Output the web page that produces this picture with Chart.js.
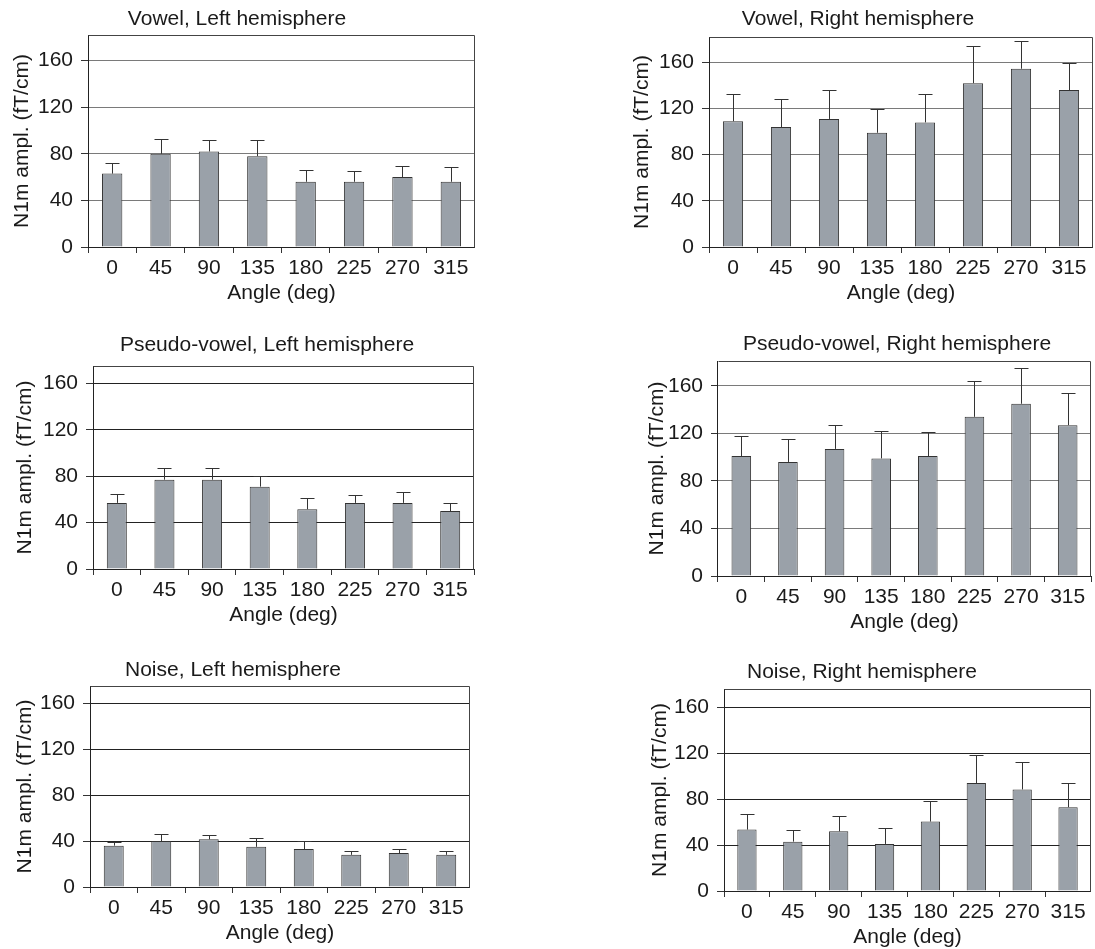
<!DOCTYPE html>
<html>
<head>
<meta charset="utf-8">
<script src="https://cdn.jsdelivr.net/npm/chart.js@4.4.1/dist/chart.umd.min.js"></script>
<style>
  html, body { margin: 0; padding: 0; background: #fff; overflow: hidden; width: 1095px; height: 949px; }
  canvas { position: absolute; }
</style>
</head>
<body>
<canvas id="c1"></canvas>
<canvas id="c2"></canvas>
<canvas id="c3"></canvas>
<canvas id="c4"></canvas>
<canvas id="c5"></canvas>
<canvas id="c6"></canvas>
<script>
// angles (categories)
const angles = ['0', '45', '90', '135', '180', '225', '270', '315'];
const yTicks = [0, 40, 80, 120, 160];

// N1m amplitude means and SD (upper error bar)
const vowelLeft = [63, 80, 82, 78, 56, 56, 60, 56];
const vowelLeftSd = [9.5, 13, 9.7, 13.7, 9.7, 9.4, 9.7, 13];
const vowelRight = [109, 104, 111, 99, 108, 142, 154.5, 136];
const vowelRightSd = [23.7, 24.4, 24.7, 20.9, 24.4, 31.9, 24.1, 23.7];
const pseudoLeft = [57, 77, 77, 71, 51.5, 57, 57, 50];
const pseudoLeftSd = [7.5, 10, 10, 9.5, 10, 7.2, 9.5, 7.2];
const pseudoRight = [101, 96, 107, 99, 101, 134, 145, 127];
const pseudoRightSd = [17.1, 19.7, 20, 22.8, 19.9, 30.1, 29.8, 26.7];
const noiseLeft = [36, 40, 41.5, 35, 33, 28, 29.5, 28];
const noiseLeftSd = [3.5, 6.4, 4.1, 7.6, 7, 3.7, 3.8, 3.2];
const noiseRight = [53.5, 43, 52, 41, 60.5, 94, 88.5, 73];
const noiseRightSd = [14, 9.8, 13.7, 14, 18, 24.4, 23.9, 21];

const FONT = { family: '"Liberation Sans", Arial, sans-serif', size: 21 };
const LH = FONT.size * 1.2;
const XH = 59;   // height of the x axis block (ticks + labels + title)

// canvas rows (top / height)
const rows = [{ top: 0, height: 318 }, { top: 318, height: 322 }, { top: 640, height: 320 }];

// panel layout: plot box L,T,R,B, axis max, title centre, y-title x
const panels = [
  { id: 'c1', row: 0, title: 'Vowel, Left hemisphere', values: vowelLeft, sd: vowelLeftSd,
    L: 88, T: 35, R: 475, B: 247, ymax: 182, titleX: 237, titleY: 19, yTitleX: 22, grid: '#7a7a7a' },
  { id: 'c2', row: 0, title: 'Vowel, Right hemisphere', values: vowelRight, sd: vowelRightSd,
    L: 709, T: 37, R: 1093, B: 247, ymax: 182, titleX: 858, titleY: 19, yTitleX: 642, grid: '#7a7a7a' },
  { id: 'c3', row: 1, title: 'Pseudo-vowel, Left hemisphere', values: pseudoLeft, sd: pseudoLeftSd,
    L: 93, T: 366, R: 474, B: 569, ymax: 175, titleX: 267, titleY: 345, yTitleX: 25, grid: '#222' },
  { id: 'c4', row: 1, title: 'Pseudo-vowel, Right hemisphere', values: pseudoRight, sd: pseudoRightSd,
    L: 718, T: 361, R: 1091, B: 576, ymax: 181, titleX: 897, titleY: 344, yTitleX: 657, grid: '#7a7a7a' },
  { id: 'c5', row: 2, title: 'Noise, Left hemisphere', values: noiseLeft, sd: noiseLeftSd,
    L: 90, T: 686, R: 470, B: 887, ymax: 175, titleX: 233, titleY: 670, yTitleX: 25, grid: '#222' },
  { id: 'c6', row: 2, title: 'Noise, Right hemisphere', values: noiseRight, sd: noiseRightSd,
    L: 724, T: 689, R: 1091, B: 891, ymax: 176, titleX: 862, titleY: 672, yTitleX: 660, grid: '#222' }
];

// upper error bars
const errorBars = {
  id: 'errorBars',
  afterDatasetsDraw(chart) {
    const ctx = chart.ctx;
    const y = chart.scales.y;
    const ds = chart.data.datasets[0];
    const meta = chart.getDatasetMeta(0);
    ctx.save();
    ctx.strokeStyle = '#333';
    ctx.lineWidth = 1;
    meta.data.forEach((bar, i) => {
      const x = Math.round(bar.x) + 0.5;
      const top = Math.round(y.getPixelForValue(ds.data[i] + ds.sd[i])) + 0.5;
      ctx.beginPath();
      ctx.moveTo(x, bar.y);
      ctx.lineTo(x, top);
      ctx.moveTo(x - 7, top);
      ctx.lineTo(x + 7, top);
      ctx.stroke();
    });
    ctx.restore();
  }
};

// top and right edge of the plot frame
const frame = {
  id: 'frame',
  beforeDatasetsDraw(chart) {
    const a = chart.chartArea;
    const ctx = chart.ctx;
    const l = Math.round(a.left) + 0.5, t = Math.round(a.top) + 0.5;
    const r = Math.round(a.right) - 0.5, b = Math.round(a.bottom) + 0.5;
    ctx.save();
    ctx.strokeStyle = '#444';
    ctx.lineWidth = 1;
    ctx.beginPath();
    ctx.moveTo(l, t);
    ctx.lineTo(r, t);
    ctx.lineTo(r, b);
    ctx.stroke();
    ctx.restore();
  }
};

panels.forEach(p => {
  const rw = rows[p.row];
  // y axis block wide enough for labels + title; right spacer centres the title like the original
  const yw = Math.max(p.L - p.yTitleX + LH / 2 + 2, p.L + p.R - 2 * p.titleX);
  const w2 = Math.max(0, 2 * p.titleX - (p.L - yw) - p.R);
  const cl = Math.floor(p.L - yw);
  const pl = p.L - yw - cl;
  const cw = Math.ceil(p.R + w2 - cl);
  const pr = cl + cw - (p.R + w2);
  const tTop = p.titleY - rw.top - LH / 2;
  const tBottom = p.T - rw.top - LH - tTop;
  const pb = rw.top + rw.height - p.B - XH;
  const yTitlePad = p.yTitleX - (p.L - yw) - LH / 2;

  const canvas = document.getElementById(p.id);
  canvas.width = cw;
  canvas.height = rw.height;
  canvas.style.left = cl + 'px';
  canvas.style.top = rw.top + 'px';

  new Chart(canvas, {
    type: 'bar',
    data: {
      labels: angles,
      datasets: [{
        data: p.values,
        sd: p.sd,
        backgroundColor: '#9aa1a9',
        borderColor: '#333',
        borderWidth: 1,
        barPercentage: 0.42,
        categoryPercentage: 1
      }]
    },
    options: {
      responsive: false,
      animation: false,
      layout: { padding: { left: pl, right: pr, top: 0, bottom: pb } },
      plugins: {
        legend: { display: false },
        tooltip: { enabled: false },
        title: {
          display: true,
          text: p.title,
          color: '#1a1a1a',
          font: { ...FONT, weight: 'normal' },
          padding: { top: tTop, bottom: tBottom }
        }
      },
      scales: {
        x: {
          offset: true,
          grid: { display: true, offset: true, drawOnChartArea: false, drawTicks: true, tickLength: 6, color: '#333' },
          border: { display: true, color: '#222', width: 1 },
          ticks: { color: '#1a1a1a', font: FONT, padding: 3, maxRotation: 0, autoSkip: false },
          title: { display: true, text: 'Angle (deg)', color: '#1a1a1a', font: FONT, padding: 0 },
          afterFit: s => { s.height = XH; }
        },
        y: {
          min: 0,
          max: p.ymax,
          afterBuildTicks: s => { s.ticks = yTicks.map(v => ({ value: v })); },
          grid: { color: p.grid, tickColor: '#333', tickLength: 7, drawTicks: true },
          border: { display: true, color: '#222', width: 1 },
          ticks: { color: '#1a1a1a', font: FONT, padding: 8 },
          title: { display: true, text: 'N1m ampl. (fT/cm)', color: '#1a1a1a', font: FONT, padding: { top: yTitlePad, bottom: 0 } },
          afterFit: s => { s.width = yw; }
        },
        spacer: {
          type: 'linear',
          position: 'right',
          display: w2 > 0,
          grid: { display: false },
          border: { display: false },
          ticks: { display: false },
          afterFit: s => { s.width = w2; }
        }
      }
    },
    plugins: [frame, errorBars]
  });
});
</script>
</body>
</html>
